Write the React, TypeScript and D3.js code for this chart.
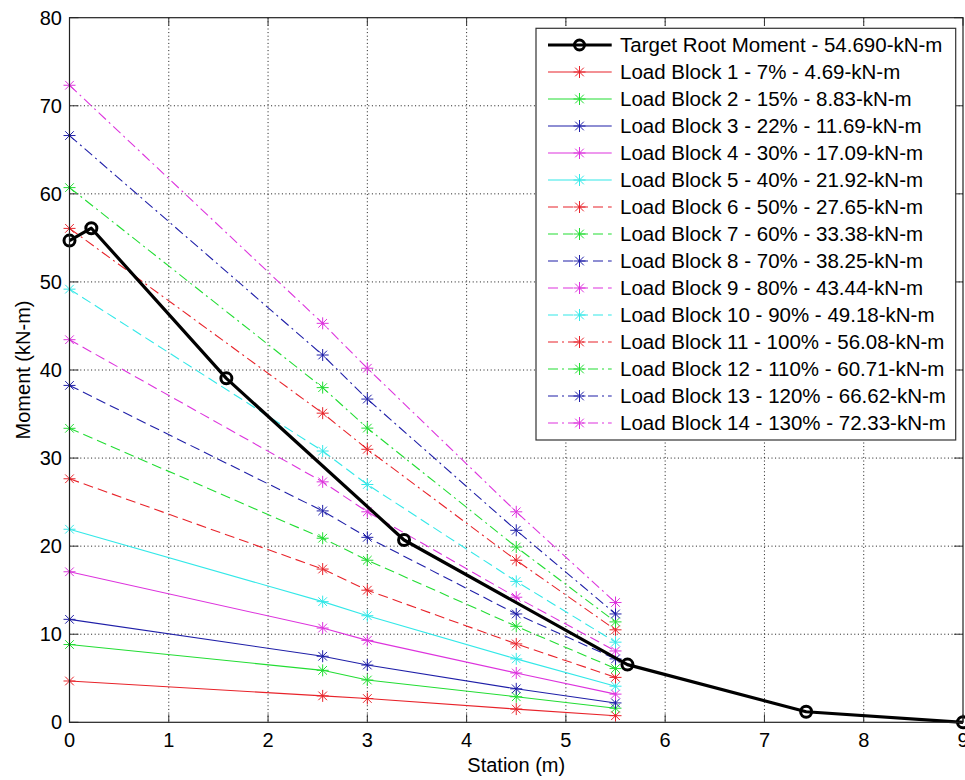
import React from "react";
import * as d3 from "d3";

// Station positions (m) where each load block is evaluated
const stations = [0, 2.55, 3, 4.5, 5.5];

// Target root moment distribution
const targetX = [0, 0.22, 1.58, 3.37, 5.62, 7.42, 9];
const targetY = [54.69, 56.1, 39.05, 20.7, 6.55, 1.2, 0];

// Load block labels and moments at each station (kN-m)
const blockNames = [
  "Load Block 1 - 7% - 4.69-kN-m",
  "Load Block 2 - 15% - 8.83-kN-m",
  "Load Block 3 - 22% - 11.69-kN-m",
  "Load Block 4 - 30% - 17.09-kN-m",
  "Load Block 5 - 40% - 21.92-kN-m",
  "Load Block 6 - 50% - 27.65-kN-m",
  "Load Block 7 - 60% - 33.38-kN-m",
  "Load Block 8 - 70% - 38.25-kN-m",
  "Load Block 9 - 80% - 43.44-kN-m",
  "Load Block 10 - 90% - 49.18-kN-m",
  "Load Block 11 - 100% - 56.08-kN-m",
  "Load Block 12 - 110% - 60.71-kN-m",
  "Load Block 13 - 120% - 66.62-kN-m",
  "Load Block 14 - 130% - 72.33-kN-m",
];
const blockValues = [
  [4.69, 3.0, 2.7, 1.5, 0.75],
  [8.83, 5.9, 4.8, 2.9, 1.6],
  [11.69, 7.5, 6.5, 3.8, 2.2],
  [17.09, 10.7, 9.3, 5.6, 3.2],
  [21.92, 13.7, 12.1, 7.2, 4.1],
  [27.65, 17.4, 15.0, 8.9, 5.1],
  [33.38, 20.9, 18.4, 10.9, 6.1],
  [38.25, 24.0, 21.0, 12.3, 7.2],
  [43.44, 27.3, 23.9, 14.2, 8.1],
  [49.18, 30.8, 27.0, 16.0, 9.1],
  [56.08, 35.1, 31.0, 18.4, 10.5],
  [60.71, 38.0, 33.4, 19.9, 11.4],
  [66.62, 41.7, 36.7, 21.8, 12.3],
  [72.33, 45.3, 40.2, 23.9, 13.6],
];
const targetName = "Target Root Moment - 54.690-kN-m";

const xTicks = [0, 1, 2, 3, 4, 5, 6, 7, 8, 9];
const yTicks = [0, 10, 20, 30, 40, 50, 60, 70, 80];

const colors = ["#e8232a", "#22dd33", "#1f1fa8", "#dd33dd", "#33e8e8"];
const dashFor = (i: number) =>
  i < 5 ? undefined : i < 10 ? "10,5" : "10,4,2,4";

const W = 965;
const H = 780;
const left = 69.5;
const right = 963;
const top = 17.7;
const bottom = 722.3;

const font = "'Liberation Sans', Arial, sans-serif";

function asterisk(cx: number, cy: number, r = 6) {
  const d = r * 0.72;
  return (
    `M${cx - r},${cy}L${cx + r},${cy}` +
    `M${cx},${cy - r}L${cx},${cy + r}` +
    `M${cx - d},${cy - d}L${cx + d},${cy + d}` +
    `M${cx - d},${cy + d}L${cx + d},${cy - d}`
  );
}

export default function App() {
  const x = d3.scaleLinear().domain([0, 9]).range([left, right]);
  const y = d3.scaleLinear().domain([0, 80]).range([bottom, top]);

  const line = d3
    .line<[number, number]>()
    .x((d) => x(d[0]))
    .y((d) => y(d[1]));

  const targetPts: [number, number][] = targetX.map((v, i) => [v, targetY[i]]);

  // Legend geometry
  const lgLeft = 536;
  const lgTop = 28.3;
  const lgRight = 955.7;
  const lgBottom = 440;
  const rowY0 = 45;
  const rowStep = 27.0;
  const sampleX0 = 548;
  const sampleX1 = 611.7;
  const sampleMid = 579.5;
  const textX = 620;

  return (
    <svg
      width={W}
      height={H}
      style={{ position: "absolute", left: 0, top: 0, background: "#fff" }}
      fontFamily={font}
    >
      <rect x={0} y={0} width={W} height={H} fill="#fff" />

      {/* grid */}
      <g stroke="#000" strokeWidth={1} strokeDasharray="1,2.6" opacity={0.9}>
        {xTicks.slice(1, -1).map((t) => (
          <line key={`gx${t}`} x1={x(t)} x2={x(t)} y1={top} y2={bottom} />
        ))}
        {yTicks.slice(1, -1).map((t) => (
          <line key={`gy${t}`} x1={left} x2={right} y1={y(t)} y2={y(t)} />
        ))}
      </g>

      {/* ticks on all four sides */}
      <g stroke="#333" strokeWidth={1}>
        {xTicks.map((t) => (
          <g key={`tx${t}`}>
            <line x1={x(t)} x2={x(t)} y1={bottom} y2={bottom - 8} />
            <line x1={x(t)} x2={x(t)} y1={top} y2={top + 8} />
          </g>
        ))}
        {yTicks.map((t) => (
          <g key={`ty${t}`}>
            <line x1={left} x2={left + 9} y1={y(t)} y2={y(t)} />
            <line x1={right} x2={right - 9} y1={y(t)} y2={y(t)} />
          </g>
        ))}
      </g>

      {/* load block series */}
      {blockValues.map((vals, i) => {
        const pts: [number, number][] = stations.map((s, j) => [s, vals[j]]);
        const c = colors[i % 5];
        return (
          <g key={`b${i}`}>
            <path
              d={line(pts) || ""}
              fill="none"
              stroke={c}
              strokeWidth={1.1}
              strokeDasharray={dashFor(i)}
            />
            <path
              d={pts.map((p) => asterisk(x(p[0]), y(p[1]))).join("")}
              stroke={c}
              strokeWidth={1}
              fill="none"
            />
          </g>
        );
      })}

      {/* target root moment */}
      <path
        d={line(targetPts) || ""}
        fill="none"
        stroke="#000"
        strokeWidth={3.2}
        strokeLinejoin="round"
      />
      {targetPts.map((p, i) => (
        <circle
          key={`tc${i}`}
          cx={x(p[0])}
          cy={y(p[1])}
          r={5.5}
          fill="none"
          stroke="#000"
          strokeWidth={3}
        />
      ))}

      {/* axes box */}
      <rect
        x={left}
        y={top}
        width={right - left}
        height={bottom - top}
        fill="none"
        stroke="#222"
        strokeWidth={1.2}
      />

      {/* tick labels */}
      <g fontSize={20} fill="#000">
        {xTicks.map((t) => (
          <text key={`lx${t}`} x={x(t)} y={747} textAnchor="middle">
            {t}
          </text>
        ))}
        {yTicks.map((t) => (
          <text key={`ly${t}`} x={62} y={y(t) + 7} textAnchor="end">
            {t}
          </text>
        ))}
      </g>

      {/* axis titles */}
      <text x={(left + right) / 2} y={772} textAnchor="middle" fontSize={20}>
        Station (m)
      </text>
      <text
        transform={`translate(30,${(top + bottom) / 2}) rotate(-90)`}
        textAnchor="middle"
        fontSize={20}
      >
        Moment (kN-m)
      </text>

      {/* legend */}
      <rect
        x={lgLeft}
        y={lgTop}
        width={lgRight - lgLeft}
        height={lgBottom - lgTop}
        fill="#fff"
        stroke="#333"
        strokeWidth={1.2}
      />
      <g>
        <line
          x1={sampleX0}
          x2={sampleX1}
          y1={rowY0}
          y2={rowY0}
          stroke="#000"
          strokeWidth={3.2}
        />
        <circle cx={sampleMid} cy={rowY0} r={5} fill="none" stroke="#000" strokeWidth={3} />
        <text x={textX} y={rowY0 + 7} fontSize={20.5}>
          {targetName}
        </text>
      </g>
      {blockNames.map((name, i) => {
        const ry = rowY0 + (i + 1) * rowStep;
        const c = colors[i % 5];
        return (
          <g key={`lg${i}`}>
            <line
              x1={sampleX0}
              x2={sampleX1}
              y1={ry}
              y2={ry}
              stroke={c}
              strokeWidth={1.1}
              strokeDasharray={dashFor(i)}
            />
            <path d={asterisk(sampleMid, ry)} stroke={c} strokeWidth={1} fill="none" />
            <text x={textX} y={ry + 7} fontSize={20.5}>
              {name}
            </text>
          </g>
        );
      })}
    </svg>
  );
}
